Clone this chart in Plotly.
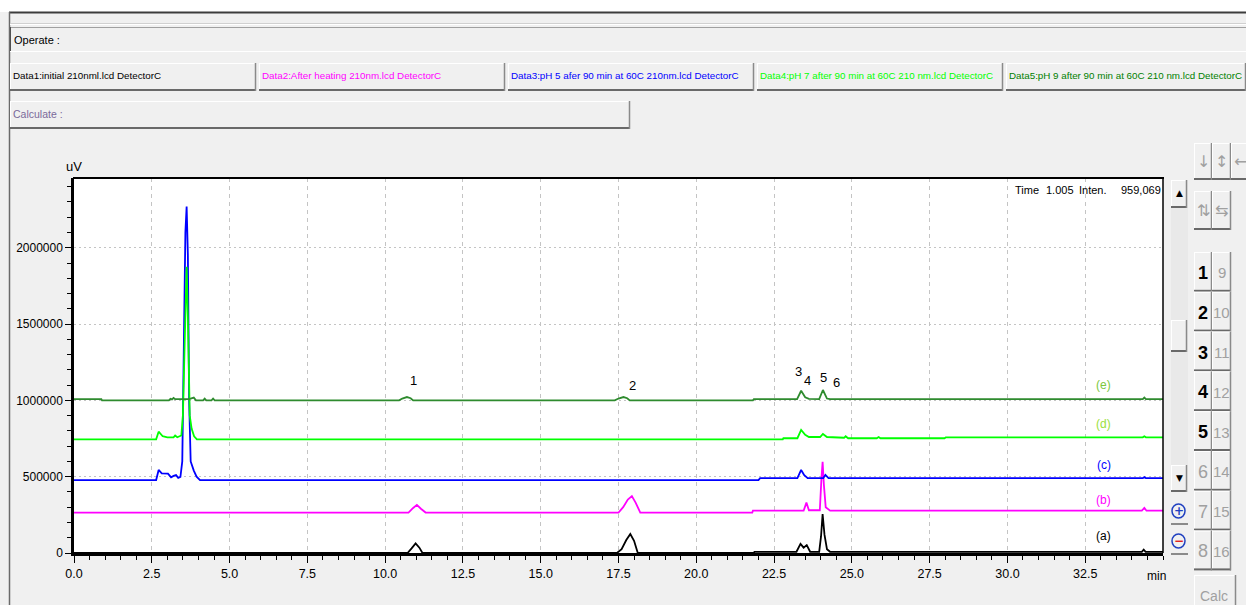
import plotly.graph_objects as go

# ---------------- data ----------------
time_a = [0.0, 10.72, 10.85, 10.98, 11.1, 11.2, 17.45, 17.6, 17.75, 17.88, 18.0, 18.12, 21.85, 21.87,
          23.22, 23.35, 23.45, 23.55, 23.66, 23.95, 24.01, 24.06, 24.12, 24.2, 24.3, 34.32, 34.38, 34.44, 35.0]
uv_a = [0, 0, 30000, 63000, 35000, 0, 0, 25000, 85000, 124000, 80000, 0, 0, 8000,
        8000, 60000, 35000, 52000, 8000, 8000, 110000, 255000, 120000, 25000, 8000, 8000, 22000, 8000, 8000]

time_b = [0.0, 10.75, 10.9, 11.02, 11.15, 11.3, 17.5, 17.65, 17.8, 17.93, 18.05, 18.2, 21.8, 21.82,
          23.45, 23.54, 23.62, 23.97, 24.02, 24.06, 24.1, 24.16, 24.3, 34.32, 34.4, 34.47, 35.0]
uv_b = [265000, 265000, 295000, 315000, 290000, 265000, 265000, 300000, 350000, 373000, 330000, 265000, 265000, 277000,
        277000, 330000, 280000, 280000, 480000, 598000, 450000, 300000, 277000, 277000, 295000, 277000, 277000]

time_c = [0.0, 2.64, 2.72, 2.82, 3.02, 3.12, 3.2, 3.28, 3.35, 3.42, 3.48, 3.53, 3.58, 3.62, 3.66, 3.7, 3.75,
          3.85, 3.94, 4.05, 22.0, 22.05, 23.25, 23.37, 23.47, 23.58, 24.08, 24.15, 24.25, 34.35, 34.4, 34.45, 35.0]
uv_c = [478000, 478000, 544000, 522000, 520000, 496000, 505000, 510000, 492000, 498000, 600000, 1400000, 2100000,
        2270000, 1950000, 1000000, 600000, 540000, 500000, 478000, 478000, 490000, 490000, 544000, 510000, 490000,
        490000, 512000, 490000, 490000, 497000, 490000, 490000]

time_d = [0.0, 2.64, 2.72, 2.85, 3.0, 3.2, 3.25, 3.32, 3.45, 3.5, 3.56, 3.62, 3.66, 3.72, 3.78, 3.86, 3.95,
          22.78, 22.8, 23.25, 23.37, 23.5, 23.62, 23.98, 24.07, 24.2, 24.75, 24.8, 24.88, 25.8, 25.86, 25.92,
          27.98, 28.02, 34.35, 34.4, 34.45, 35.0]
uv_d = [745000, 745000, 795000, 765000, 758000, 758000, 770000, 758000, 770000, 900000, 1400000, 1875000, 1550000,
        900000, 815000, 765000, 745000, 745000, 752000, 752000, 806000, 775000, 760000, 760000, 780000, 760000,
        755000, 765000, 752000, 752000, 760000, 752000, 752000, 758000, 758000, 765000, 758000, 758000]

time_e = [0.0, 0.88, 0.9, 3.05, 3.1, 3.15, 3.2, 3.25, 3.7, 3.8, 3.85, 3.92, 4.15, 4.2, 4.25, 4.42, 4.47, 4.52,
          10.45, 10.55, 10.7, 10.82, 10.9, 17.38, 17.5, 17.66, 17.78, 17.86, 21.82, 21.85,
          23.24, 23.37, 23.5, 23.62, 23.72, 23.95, 24.07, 24.2, 24.3, 34.35, 34.4, 34.45, 35.0]
uv_e = [1008000, 1008000, 1000000, 1000000, 1010000, 1006000, 1016000, 1008000, 1008000, 1012000, 1018000, 1000000,
        1000000, 1012000, 1000000, 1000000, 1012000, 1000000, 1000000, 1012000, 1022000, 1014000, 1000000,
        1000000, 1012000, 1022000, 1014000, 1000000, 1000000, 1008000, 1008000, 1063000, 1020000, 1010000,
        1008000, 1008000, 1068000, 1012000, 1008000, 1008000, 1018000, 1008000, 1008000]

series_names = ["(a)", "(b)", "(c)", "(d)", "(e)"]
series_colors = ["#000000", "#ff00ff", "#0000ff", "#00ff00", "#2e8b2e"]
tag_colors = ["#000000", "#ff00ff", "#0000ff", "#9be03c", "#7cc83c"]
tag_time = [33.1, 33.1, 33.1, 33.1, 33.1]
tag_uv = [111000, 347000, 576000, 845000, 1100000]

peak_numbers = ["1", "2", "3", "4", "5", "6"]
peak_label_time = [10.9, 17.94, 23.28, 23.57, 24.08, 24.5]
peak_label_uv = [1127000, 1100000, 1186000, 1127000, 1153000, 1114000]

x_ticks = [0.0, 2.5, 5.0, 7.5, 10.0, 12.5, 15.0, 17.5, 20.0, 22.5, 25.0, 27.5, 30.0, 32.5]
y_ticks = [0, 500000, 1000000, 1500000, 2000000]

data_titles = ["Data1:initial 210nml.lcd DetectorC", "Data2:After heating 210nm.lcd DetectorC",
               "Data3:pH 5 afer 90 min at 60C 210nm.lcd DetectorC", "Data4:pH 7 after 90 min at 60C 210 nm.lcd DetectorC",
               "Data5:pH 9 after 90 min at 60C 210 nm.lcd DetectorC"]
data_title_colors = ["#000000", "#ff00ff", "#0000ff", "#00ff00", "#008000"]

# ---------------- figure ----------------
FONT = "Liberation Sans, Arial, sans-serif"
W, H = 1246, 605
L, R, T, B = 74, 1163, 178, 553

fig = go.Figure()
for t, v, c in zip([time_a, time_b, time_c, time_d, time_e], [uv_a, uv_b, uv_c, uv_d, uv_e], series_colors):
    fig.add_trace(go.Scatter(x=t, y=v, mode="lines", line=dict(color=c, width=1.8), hoverinfo="skip"))

annotations = []
for s, t, v in zip(peak_numbers, peak_label_time, peak_label_uv):
    annotations.append(dict(x=t, y=v, xref="x", yref="y", text=s, showarrow=False,
                            font=dict(family=FONT, size=13, color="#000000")))
for s, t, v, c in zip(series_names, tag_time, tag_uv, tag_colors):
    annotations.append(dict(x=t, y=v, xref="x", yref="y", text=s, showarrow=False,
                            font=dict(family=FONT, size=12, color=c)))

# ---------------- window chrome (pixel helpers) ----------------
def X(px):
    return (px - L) / (R - L)


def Y(py):
    return (B - py) / (B - T)


shapes = []


def rect(x0, y0, x1, y1, fill="rgba(0,0,0,0)", line=None, lw=1):
    shapes.append(dict(type="rect", xref="paper", yref="paper", x0=X(x0), x1=X(x1), y0=Y(y1), y1=Y(y0),
                       fillcolor=fill, line=dict(color=line or "rgba(0,0,0,0)", width=lw if line else 0),
                       layer="above"))


def hline(x0, x1, y, color, w=1):
    shapes.append(dict(type="line", xref="paper", yref="paper", x0=X(x0), x1=X(x1), y0=Y(y), y1=Y(y),
                       line=dict(color=color, width=w), layer="above"))


def vline(x, y0, y1, color, w=1):
    shapes.append(dict(type="line", xref="paper", yref="paper", x0=X(x), x1=X(x), y0=Y(y0), y1=Y(y1),
                       line=dict(color=color, width=w), layer="above"))


def raised(x0, y0, x1, y1, fill="#f0f0f0"):
    rect(x0, y0, x1, y1, fill=fill)
    hline(x0, x1, y0 + 0.5, "#ffffff", 1)
    vline(x0 + 0.5, y0, y1, "#ffffff", 1)
    hline(x0, x1, y1 - 1, "#696969", 2)
    vline(x1 - 0.5, y0, y1, "#8a8a8a", 1.5)


def text(x, y, s, color="#000000", size=12, anchor="left", bold=False, family=FONT):
    if bold:
        s = "<b>" + s + "</b>"
    annotations.append(dict(x=X(x), y=Y(y), xref="paper", yref="paper", text=s, showarrow=False,
                            xanchor=anchor, yanchor="middle", font=dict(family=family, size=size, color=color)))


# top strip and borders
rect(0, 0, W, 12, fill="#ffffff")
hline(9, W, 12.5, "#3c3c3c", 2)
vline(9.5, 12, H, "#6a6a6a", 1.5)
hline(10, W, 23.5, "#d0d0d0", 1)
hline(10, W, 24.5, "#ffffff", 1)

# Operate box
rect(10, 27, W, 52, fill="#f0f0f0")
hline(10, W, 27.5, "#a0a0a0", 1)
vline(10.5, 27, 52, "#505050", 1)
hline(10, W, 51.5, "#ffffff", 1)
text(12, 40, "Operate :", "#000000", 11)

# data buttons
btn_x = [10, 259, 508, 757, 1006]
btn_w = [246, 246, 246, 246, 240]
for bx, bw, s, c in zip(btn_x, btn_w, data_titles, data_title_colors):
    raised(bx, 63, bx + bw, 91)
    text(bx + 1, 76, s, c, 9.8)

# calculate box
raised(10, 101, 630, 129)
text(11, 114, "Calculate :", "#7a6a9a", 10.5)

# scrollbar
rect(1171, 180, 1188, 492, fill="#e9e9e9")
raised(1171, 180, 1187, 208)
text(1179, 193, "▲", "#000000", 9, anchor="center", family="DejaVu Sans")
raised(1171, 320, 1187, 352)
raised(1171, 465, 1187, 492)
text(1179, 478, "▼", "#000000", 9, anchor="center", family="DejaVu Sans")
# zoom buttons
for yc, sign, col in [(511, "+", "#2040c0"), (541, "−", "#e02020")]:
    shapes.append(dict(type="circle", xref="paper", yref="paper", x0=X(1172), x1=X(1185), y0=Y(yc + 7), y1=Y(yc - 7),
                       line=dict(color="#2040c0", width=1.5), fillcolor="rgba(0,0,0,0)", layer="above"))
    text(1178.5, yc, "<b>" + sign + "</b>", col, 12, anchor="center", family="DejaVu Sans")
    hline(1171, 1188, yc + 13, "#696969", 1.5)

# right tool buttons
icon_row1 = [(1194, 1212, "↓"), (1212, 1231, "↕"), (1231, 1250, "←")]
for x0, x1, g in icon_row1:
    raised(x0, 143, x1, 180)
    text((x0 + x1) / 2, 161, g, "#a0a0a0", 16, anchor="center", family="DejaVu Sans")
icon_row2 = [(1194, 1212, "⇅"), (1212, 1231, "⇆")]
for x0, x1, g in icon_row2:
    raised(x0, 191, x1, 230)
    text((x0 + x1) / 2, 210, g, "#a0a0a0", 16, anchor="center", family="DejaVu Sans")

row_h = 39.8
for i in range(8):
    y0 = 252 + i * row_h
    y1 = y0 + row_h
    raised(1194, y0, 1212, y1)
    raised(1212, y0, 1231, y1)
    n1 = i + 1
    n2 = i + 9
    if n1 <= 5:
        text(1203, (y0 + y1) / 2 + 1, str(n1), "#000000", 18, anchor="center", bold=True)
    else:
        text(1203, (y0 + y1) / 2 + 1, str(n1), "#a0a0a0", 18, anchor="center")
    text(1221.5, (y0 + y1) / 2 + 1, str(n2), "#a0a0a0", 15, anchor="center")
raised(1194, 575, 1236, 612)
text(1214, 596, "Calc", "#a0a0a0", 14, anchor="center")

# plot frame (top/right)
hline(L - 1, R + 1, T, "#000000", 2)
vline(R, T, B, "#000000", 1.5)

# info text, axis unit labels
text(1013, 190, "Time", "#000000", 11)
text(1044, 190, "1.005", "#000000", 11)
text(1077, 190, "Inten.", "#000000", 11)
text(1163, 190, "959,069", "#000000", 11, anchor="right")
text(74, 166, "uV", "#000000", 13, anchor="center")
text(1156, 576, "min", "#000000", 12, anchor="center")

fig.update_layout(
    width=W, height=H,
    margin=dict(l=L, r=W - R, t=T, b=H - B, pad=0, autoexpand=False),
    paper_bgcolor="#f0f0f0", plot_bgcolor="#ffffff",
    showlegend=False,
    shapes=shapes, annotations=annotations,
    font=dict(family=FONT, size=12, color="#000000"),
)
fig.update_xaxes(
    range=[0, 35.0], tickvals=x_ticks, ticktext=[f"{v:.1f}" for v in x_ticks],
    ticks="outside", ticklen=7, tickwidth=1.2, tickcolor="#000000",
    showline=True, linecolor="#000000", linewidth=3, automargin=False,
    showgrid=True, gridcolor="#c4c4c4", griddash="4px,4px", gridwidth=1,
    zeroline=False, tickfont=dict(family=FONT, size=12.5, color="#000000"),
    minor=dict(dtick=0.5, tick0=0, ticks="outside", ticklen=4, tickcolor="#000000", showgrid=False),
)
fig.update_yaxes(
    range=[0, 2457000], tickvals=y_ticks, ticktext=[str(v) for v in y_ticks],
    ticks="outside", ticklen=6, tickwidth=1.2, tickcolor="#000000",
    showline=True, linecolor="#000000", linewidth=2.5, automargin=False,
    showgrid=True, gridcolor="#c4c4c4", griddash="2px,3px", gridwidth=1,
    zeroline=False, tickfont=dict(family=FONT, size=12, color="#000000"),
    minor=dict(dtick=100000, tick0=0, ticks="outside", ticklen=4, tickcolor="#000000", showgrid=False),
)

fig.write_html("out.html")
